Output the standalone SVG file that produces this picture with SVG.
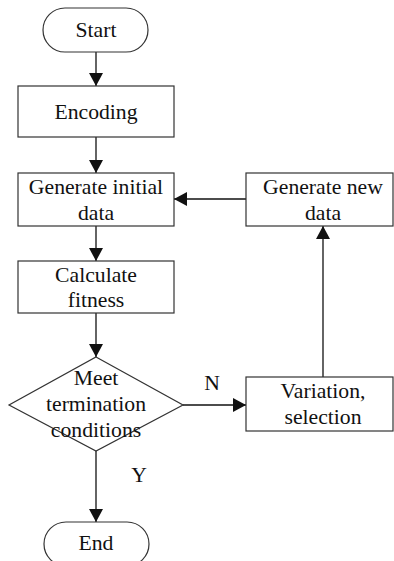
<svg xmlns="http://www.w3.org/2000/svg" width="394" height="561" viewBox="0 0 394 561">
<style>
.s{fill:#fff;stroke:#333;stroke-width:1.2}
.c{fill:none;stroke:#111;stroke-width:1.3}
text{font-family:'Liberation Serif','Times New Roman',serif;font-size:21.7px;fill:#111;text-anchor:middle}
</style>
<defs>
<marker id="a" markerUnits="userSpaceOnUse" markerWidth="13" markerHeight="14" refX="13" refY="7" orient="auto">
<path d="M0,0 L13,7 L0,14 z" fill="#111"/>
</marker>
</defs>
<rect width="394" height="561" fill="#fff"/>
<g id="connectors">
<line class="c" x1="96" y1="52" x2="96" y2="86" marker-end="url(#a)"/>
<line class="c" x1="96" y1="137" x2="96" y2="173" marker-end="url(#a)"/>
<line class="c" x1="96" y1="226" x2="96" y2="261" marker-end="url(#a)"/>
<line class="c" x1="96" y1="313" x2="96" y2="357" marker-end="url(#a)"/>
<line class="c" x1="96" y1="451" x2="96" y2="522" marker-end="url(#a)"/>
<line class="c" x1="183" y1="405" x2="246" y2="405" marker-end="url(#a)"/>
<line class="c" x1="323" y1="377" x2="323" y2="226" marker-end="url(#a)"/>
<line class="c" x1="246" y1="199" x2="174" y2="199" marker-end="url(#a)"/>
<text x="212" y="390">N</text>
<text x="139" y="482">Y</text>
</g>
<g id="start">
<rect class="s" x="43" y="8" width="105" height="44" rx="22"/>
<text x="96" y="37">Start</text>
</g>
<g id="encoding">
<rect class="s" x="18" y="86" width="156" height="51"/>
<text x="96" y="119">Encoding</text>
</g>
<g id="gen-initial">
<rect class="s" x="18" y="173" width="156" height="53"/>
<text x="96" y="194">Generate initial</text>
<text x="96" y="220">data</text>
</g>
<g id="gen-new">
<rect class="s" x="246" y="173" width="147" height="53"/>
<text x="323" y="194">Generate new</text>
<text x="323" y="220">data</text>
</g>
<g id="fitness">
<rect class="s" x="18" y="261" width="156" height="52"/>
<text x="96" y="282">Calculate</text>
<text x="96" y="307">fitness</text>
</g>
<g id="decision">
<polygon class="s" points="96,357 183,405 96,451 9,405"/>
<text x="96" y="385">Meet</text>
<text x="96" y="411">termination</text>
<text x="96" y="437">conditions</text>
</g>
<g id="variation">
<rect class="s" x="246" y="377" width="147" height="54"/>
<text x="323" y="398">Variation,</text>
<text x="323" y="424">selection</text>
</g>
<g id="end">
<rect class="s" x="44" y="522" width="105" height="44" rx="22"/>
<text x="96" y="550">End</text>
</g>
</svg>
